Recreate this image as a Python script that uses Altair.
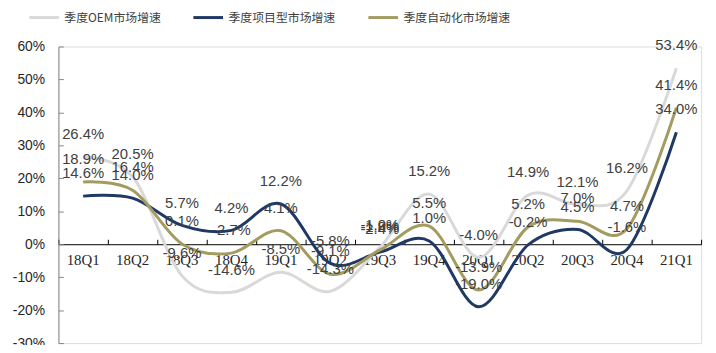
import altair as alt
import pandas as pd

quarters = ["18Q1", "18Q2", "18Q3", "18Q4", "19Q1", "19Q2", "19Q3",
            "19Q4", "20Q1", "20Q2", "20Q3", "20Q4", "21Q1"]
oem = [26.4, 20.5, -9.6, -14.6, -8.5, -14.3, -1.0, 15.2, -4.0, 14.9, 12.1, 16.2, 53.4]
project = [14.6, 14.0, 5.7, 4.2, 12.2, -5.8, -2.4, 1.0, -19.0, -0.2, 4.5, -1.6, 34.0]
automation = [18.9, 16.4, 0.1, -2.7, 4.1, -9.1, -1.8, 5.5, -13.9, 5.2, 7.0, 4.7, 41.4]
series_names = ["季度OEM市场增速", "季度项目型市场增速", "季度自动化市场增速"]
series_colors = ["#D9D9D9", "#1F3864", "#A39B60"]
y_ticks = [-30, -20, -10, 0, 10, 20, 30, 40, 50, 60]

rows = []
for name, vals in zip(series_names, [oem, project, automation]):
    for q, v in zip(quarters, vals):
        rows.append({"quarter": q, "value": v, "series": name})
df = pd.DataFrame(rows)

W, H = 650, 300
ymin, ymax = -30, 60
zero_from_bottom = (0 - ymin) / (ymax - ymin) * H
zero_from_top = (ymax - 0) / (ymax - ymin) * H

x_main = alt.X("quarter:N", sort=quarters,
               scale=alt.Scale(domain=quarters, paddingInner=0, paddingOuter=0),
               axis=alt.Axis(title=None, orient="bottom", offset=-zero_from_bottom,
                             domainColor="#000000", domainWidth=1, ticks=False, tickSize=0,
                             labelPadding=9, labelAngle=0, labelFont="Liberation Serif",
                             labelFontSize=15, labelColor="#262626", grid=False))
y_main = alt.Y("value:Q", scale=alt.Scale(domain=[ymin, ymax], nice=False, zero=False),
               axis=alt.Axis(title=None, orient="left", values=y_ticks, domain=False,
                             ticks=False, tickSize=0, labelPadding=14,
                             labelExpr="datum.value + '%'", labelFont="Liberation Sans",
                             labelFontSize=14, labelColor="#262626", grid=False))

color = alt.Color("series:N",
                  scale=alt.Scale(domain=series_names, range=series_colors),
                  legend=alt.Legend(title=None, orient="none", direction="horizontal",
                                    legendX=-31, legendY=-46, symbolType="stroke",
                                    symbolSize=900, symbolStrokeWidth=3,
                                    labelFont="Noto Sans CJK SC", labelFontSize=12,
                                    labelColor="#404040", labelOffset=4, columnPadding=26))

lines = alt.Chart(df).mark_line(interpolate="cardinal", tension=0, strokeWidth=3).encode(
    x=x_main, y=y_main, color=color, order=alt.Order("quarter:N")
)

labels = alt.Chart(df).transform_calculate(
    label="(datum.value < 0 ? '-' : '') + format(abs(datum.value), '.1f') + '%'"
).mark_text(font="Liberation Sans", fontSize=15, color="#404040",
            baseline="alphabetic", dy=-18).encode(
    x=alt.X("quarter:N", sort=quarters, axis=None),
    y=alt.Y("value:Q", axis=None),
    text="label:N",
)

axes_extra = alt.Chart(df).mark_point(opacity=0).encode(
    x=alt.X("quarter:N", sort=quarters,
            axis=alt.Axis(title=None, orient="top", offset=-zero_from_top, domain=False,
                          labels=False, ticks=True, tickBand="extent", tickSize=5,
                          tickColor="#000000", grid=False)),
    y=alt.Y("value:Q",
            axis=alt.Axis(title=None, orient="right", offset=-W, values=y_ticks,
                          domain=True, domainColor="#868686", ticks=True, tickSize=5,
                          tickColor="#868686", labels=False, grid=False)),
)

chart = alt.layer(lines, labels, axes_extra).resolve_axis(
    x="independent", y="independent"
).properties(
    width=W, height=H,
    autosize=alt.AutoSizeParams(type="none"),
    padding={"left": 51, "top": 37, "right": 7, "bottom": 0},
).configure_view(stroke=None).configure(background="#ffffff")

chart.save("out.html", embed_options={"renderer": "svg", "actions": False})
